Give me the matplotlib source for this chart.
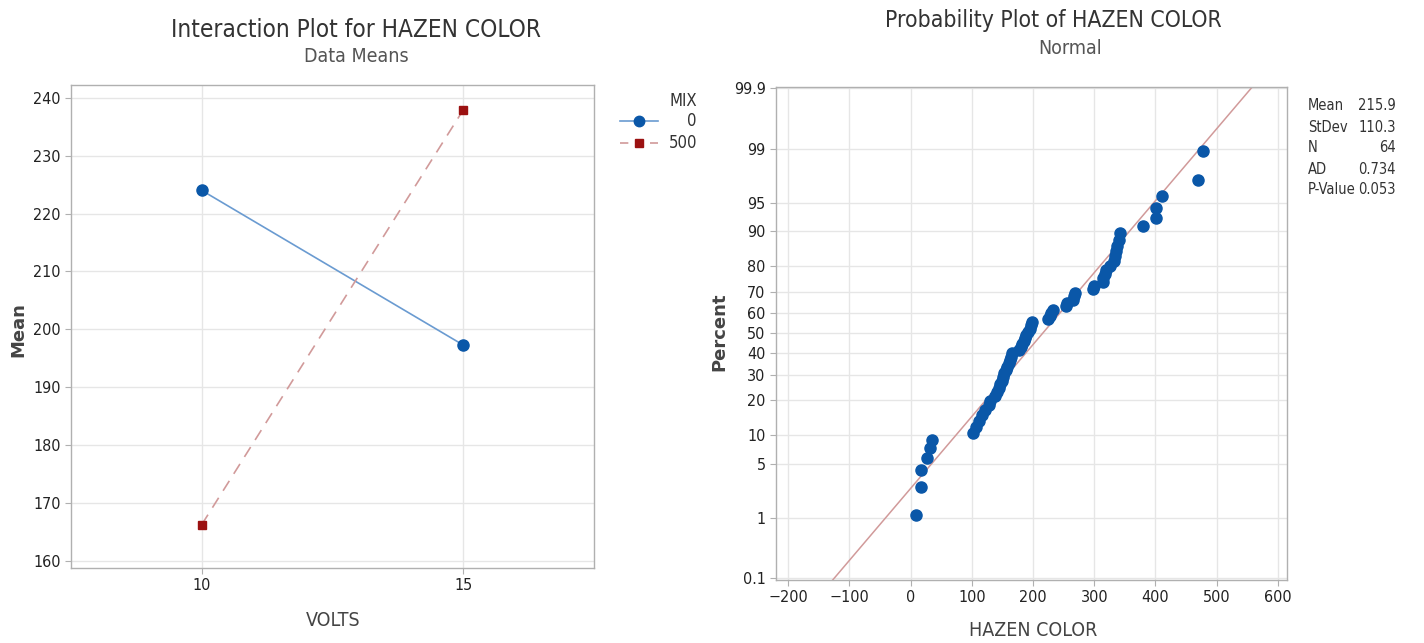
import matplotlib
matplotlib.use("Agg")
import matplotlib.pyplot as plt
from matplotlib.lines import Line2D
from statistics import NormalDist

# ---------------- data ----------------
volts = [10, 15]
mix_levels = ["0", "500"]
mean_mix0 = [224.0, 197.3]
mean_mix500 = [166.3, 237.9]

hazen = [9, 17, 17, 26, 32, 35, 102, 107, 112, 117, 122, 128, 130, 138, 141, 144,
         146, 149, 151, 153, 156, 158, 161, 162, 164, 165, 177, 180, 182, 185, 187, 189,
         192, 195, 197, 198, 225, 228, 230, 233, 254, 255, 265, 267, 268, 298, 300, 314,
         315, 317, 319, 325, 332, 334, 335, 337, 340, 342, 380, 401, 401, 410, 470, 477]
fit_mean = 215.9
fit_sd = 110.3
stat_names = ["Mean", "StDev", "N", "AD", "P-Value"]
stat_values = ["215.9", "110.3", "64", "0.734", "0.053"]
pct_ticks = [0.1, 1, 5, 10, 20, 30, 40, 50, 60, 70, 80, 90, 95, 99, 99.9]
pct_labels = ["0.1", "1", "5", "10", "20", "30", "40", "50", "60", "70", "80", "90", "95", "99", "99.9"]
x_ticks = [-200, -100, 0, 100, 200, 300, 400, 500, 600]
y_ticks_left = [160, 170, 180, 190, 200, 210, 220, 230, 240]

# ---------------- style ----------------
plt.rcParams["font.family"] = ["DejaVu Sans"]
NARROW = dict(family=["DejaVu Sans"], stretch="condensed")
GRID = "#e6e6e6"
SPINE = "#b0b0b0"
BLUE = "#0a57a8"
BLUE_LINE = "#6a9bd1"
RED = "#9b1111"
RED_LINE = "#d19a9a"
TXT = "#333333"

W, H = 1424, 643
fig = plt.figure(figsize=(W / 100, H / 100), dpi=100)
fig.patch.set_facecolor("white")

def fx(px):
    return px / W

def fy(py):
    return 1 - py / H

def style_axes(ax):
    for s in ax.spines.values():
        s.set_color(SPINE)
        s.set_linewidth(1.0)
    ax.tick_params(colors=SPINE, length=4, width=0.8, labelcolor="#222222", labelsize=11.5)
    for lab in ax.get_xticklabels() + ax.get_yticklabels():
        lab.set_fontstretch("condensed")
    ax.set_axisbelow(True)

# ---------------- left: interaction plot ----------------
axL = fig.add_axes([fx(71), fy(568), fx(594 - 71), (568 - 85) / H])
axL.plot(volts, mean_mix0, color=BLUE_LINE, lw=1.2, zorder=2)
axL.plot(volts, mean_mix0, ls="none", marker="o", ms=8, color=BLUE, zorder=3)
axL.plot(volts, mean_mix500, color=RED_LINE, lw=1.2, ls=(0, (7, 5)), zorder=2)
axL.plot(volts, mean_mix500, ls="none", marker="s", ms=5.5, color=RED, zorder=3)
axL.set_xlim(7.5, 17.5)
axL.set_ylim(158.8, 242.2)
axL.set_xticks(volts)
axL.set_yticks(y_ticks_left)
axL.grid(True, color=GRID, lw=1.0)
style_axes(axL)

fig.text(fx(356), fy(30), "Interaction Plot for HAZEN COLOR", ha="center", va="center",
         fontsize=17.5, color=TXT, **NARROW)
fig.text(fx(356), fy(57), "Data Means", ha="center", va="center",
         fontsize=14, color="#555555", **NARROW)
fig.text(fx(18), fy(330), "Mean", rotation=90, ha="center", va="center",
         fontsize=13, color="#444444", fontweight="bold")
fig.text(fx(333), fy(620), "VOLTS", ha="center", va="center",
         fontsize=14, color="#444444", **NARROW)

# legend (manual, right-aligned labels like Minitab)
fig.text(fx(697), fy(101), "MIX", ha="right", va="center", fontsize=12, color=TXT, **NARROW)
fig.add_artist(Line2D([fx(620), fx(658)], [fy(121), fy(121)], color=BLUE_LINE, lw=1.2))
fig.add_artist(Line2D([fx(639)], [fy(121)], marker="o", ms=7.5, color=BLUE, ls="none"))
fig.text(fx(697), fy(121), mix_levels[0], ha="right", va="center", fontsize=12, color=TXT, **NARROW)
fig.add_artist(Line2D([fx(620), fx(658)], [fy(143), fy(143)], color=RED_LINE, lw=1.2,
                      ls=(0, (5, 4))))
fig.add_artist(Line2D([fx(639)], [fy(143)], marker="s", ms=5.5, color=RED, ls="none"))
fig.text(fx(697), fy(143), mix_levels[1], ha="right", va="center", fontsize=12, color=TXT, **NARROW)

# ---------------- right: normal probability plot ----------------
nd = NormalDist()
n = len(hazen)
srt = sorted(hazen)
zpos = [nd.inv_cdf((i - 0.3) / (n + 0.4)) for i in range(1, n + 1)]

axR = fig.add_axes([fx(776), fy(580), fx(1287 - 776), (580 - 87) / H])
zlo, zhi = -3.112, 3.103
zline = [zlo, zhi]
xline = [fit_mean + fit_sd * z for z in zline]
axR.plot(xline, zline, color=RED_LINE, lw=1.1, zorder=2)
axR.plot(srt, zpos, ls="none", marker="o", ms=8, color=BLUE, zorder=3)
axR.set_xlim(-220, 615)
axR.set_ylim(zlo, zhi)
axR.set_xticks(x_ticks)
axR.set_yticks([nd.inv_cdf(p / 100) for p in pct_ticks])
axR.set_yticklabels(pct_labels)
axR.grid(True, color=GRID, lw=1.0)
style_axes(axR)

fig.text(fx(1053), fy(21), "Probability Plot of HAZEN COLOR", ha="center", va="center",
         fontsize=16.5, color=TXT, **NARROW)
fig.text(fx(1070), fy(48), "Normal", ha="center", va="center",
         fontsize=14, color="#555555", **NARROW)
fig.text(fx(719), fy(332), "Percent", rotation=90, ha="center", va="center",
         fontsize=13, color="#444444", fontweight="bold")
fig.text(fx(1033), fy(631), "HAZEN COLOR", ha="center", va="center",
         fontsize=14, color="#444444", **NARROW)

for k, (nm, val) in enumerate(zip(stat_names, stat_values)):
    yy = 106 + k * 21
    fig.text(fx(1308), fy(yy), nm, ha="left", va="center", fontsize=10.5, color=TXT, **NARROW)
    fig.text(fx(1396), fy(yy), val, ha="right", va="center", fontsize=10.5, color=TXT, **NARROW)

fig.savefig("out.png", dpi=100, facecolor="white")
